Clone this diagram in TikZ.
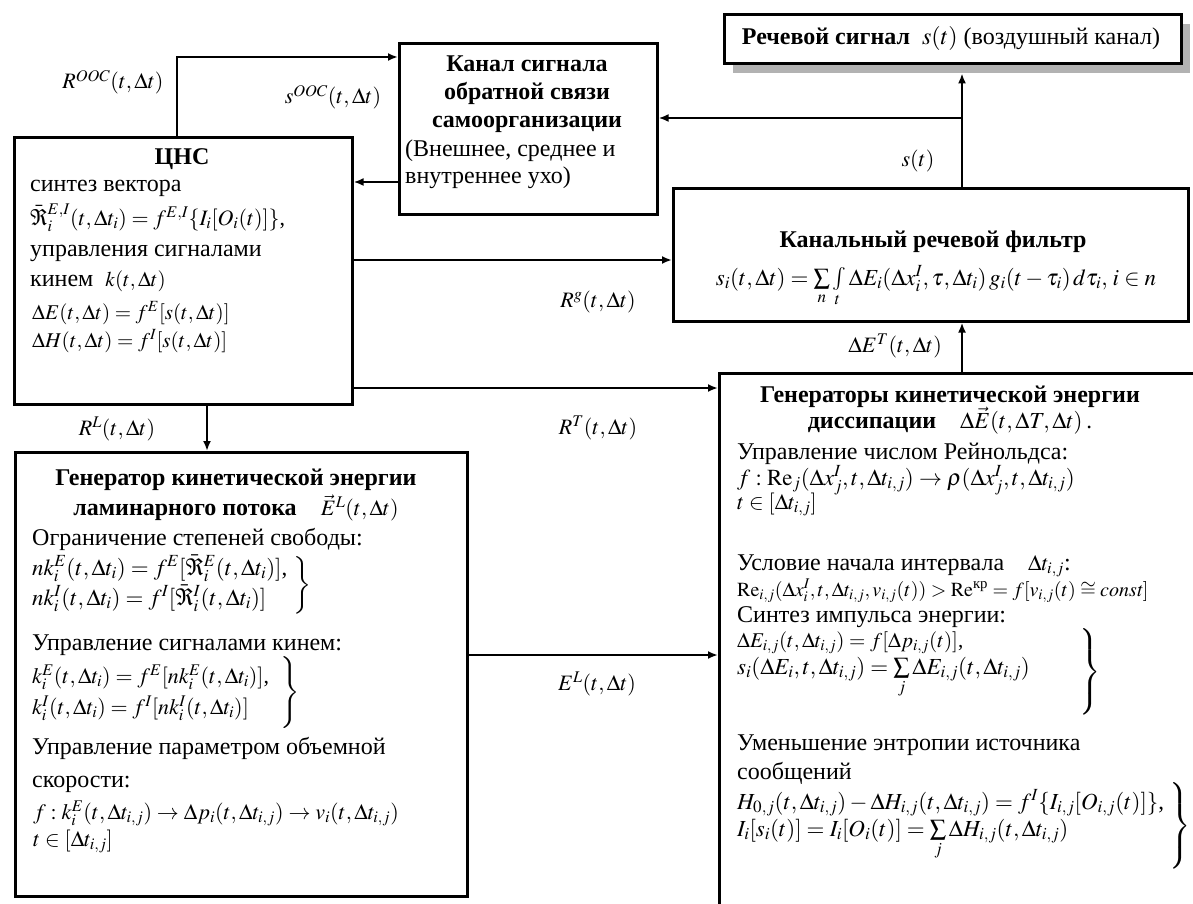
\documentclass[tikz,border=0pt]{standalone}
\usepackage{amsmath}
\usepackage{mathptmx}
\usepackage{fontspec}
\setmainfont{Liberation Serif}
\usetikzlibrary{arrows.meta}
\begin{document}
\begin{tikzpicture}[x=1pt,y=-1pt,
  box/.style={draw, line width=2.6pt, inner sep=0pt, anchor=north west},
  conn/.style={line width=2pt, -{Latex[length=10pt,width=8pt]}},
  tx/.style={anchor=base west, inner sep=0pt},
  tc/.style={anchor=base, inner sep=0pt},
  fs/.style={font=\fontsize{#1}{#1}\selectfont},
  brc/.style={inner sep=0pt},
  font=\fontsize{24}{29}\selectfont]
\useasboundingbox (0,0) rectangle (1193,904);
\clip (0,0) rectangle (1193,904);
% boxes
\node[box, minimum width=338pt, minimum height=267pt] (cns) at (13,136) {};
\node[box, minimum width=258pt, minimum height=171pt] (kanal) at (398,42) {};
\node[fill=gray!60, inner sep=0pt, anchor=north west, minimum width=457pt, minimum height=49pt] (rechsh) at (733,24) {};
\node[box, fill=white, minimum width=457pt, minimum height=49pt] (rech) at (723,13) {};
\node[box, minimum width=515pt, minimum height=133pt] (filt) at (672,187) {};
\node[box, minimum width=452pt, minimum height=444pt] (lam) at (14,451) {};
\node[box, minimum width=520pt, minimum height=600pt] (gen) at (718,372) {};
% connector coordinates
\coordinate (b1) at (177,57);
\coordinate (b2) at (0,182);
\coordinate (b3) at (962,0);
\coordinate (b4) at (962,118);
\coordinate (b5) at (0,260);
\coordinate (b6) at (0,388);
\coordinate (b7) at (207,0);
\coordinate (b8) at (0,655);
% connectors
\draw[conn] (cns.north -| b1) |- (kanal.west |- b1);
\draw[conn] (kanal.west |- b2) -- (cns.east |- b2);
\draw[conn] (filt.north -| b3) -- (rechsh.south -| b3);
\draw[conn] (b4) -- (kanal.east |- b4);
\draw[conn] (cns.east |- b5) -- (filt.west |- b5);
\draw[conn] (cns.east |- b6) -- (gen.west |- b6);
\draw[conn] (cns.south -| b7) -- (lam.north -| b7);
\draw[conn] (lam.east |- b8) -- (gen.west |- b8);
\draw[conn] (gen.north -| b3) -- (filt.south -| b3);
% connector labels
\node[tc, fs=22] (lrooc) at (113,89) {$R^{OOC}(t,\Delta t)$};
\node[tc, fs=22] (lsooc) at (333,104) {$s^{OOC}(t,\Delta t)$};
\node[tc, fs=22] (lst) at (918,167) {$s(t)$};
\node[tc, fs=22] (lrg) at (598,307) {$R^{g}(t,\Delta t)$};
\node[tc, fs=22] (lrt) at (598,434) {$R^{T}(t,\Delta t)$};
\node[tc, fs=22] (lrl) at (117,435) {$R^{L}(t,\Delta t)$};
\node[tc, fs=22] (lel) at (597,690) {$E^{L}(t,\Delta t)$};
\node[anchor=base east, inner sep=0pt, fs=22] (let) at (942,352) {$\Delta E^{T}(t,\Delta t)$};
% Rech
\node[tc] (trech) at (951,45) {\textbf{Речевой сигнал}\ \ $s(t)$ (воздушный канал)};
% Kanal
\node[tc] (tk1) at (527,72) {\textbf{Канал сигнала}};
\node[tc] (tk2) at (527,100) {\textbf{обратной связи}};
\node[tc] (tk3) at (527,128) {\textbf{самоорганизации}};
\node[tx] (tk4) at (405,157) {(Внешнее, среднее и};
\node[tx] (tk5) at (405,184) {внутреннее ухо)};
% CNS
\node[tc] (tc1) at (182,165) {\textbf{ЦНС}};
\node[tx] (tc2) at (30,191) {синтез вектора};
\node[tx, fs=22] (tc3) at (30,225) {$\bar{\Re}_i^{E,I}(t,\Delta t_i) = f^{E,I}\{I_i[O_i(t)]\}$,};
\node[tx] (tc4) at (30,256) {управления сигналами};
\node[tx] (tc5) at (30,286) {кинем\ \ {\fontsize{21}{25}\selectfont$k(t,\Delta t)$}};
\node[tx, fs=21] (tc6) at (32,319) {$\Delta E(t,\Delta t) = f^{E}[s(t,\Delta t)]$};
\node[tx, fs=21] (tc7) at (32,347) {$\Delta H(t,\Delta t) = f^{I}[s(t,\Delta t)]$};
% Filter
\node[tc] (tf1) at (933,247) {\textbf{Канальный речевой фильтр}};
\node[tc, fs=23] (tf2) at (936,285) {$s_i(t,\Delta t) = \sum\limits_n \int\limits_t \Delta E_i(\Delta x_i^{I},\tau,\Delta t_i)\,g_i(t-\tau_i)\,d\tau_i,\, i\in n$};
% Laminar
\node[tc] (tl1) at (236,485) {\textbf{Генератор кинетической энергии}};
\node[tc] (tl2) at (236,515) {\textbf{ламинарного потока}\quad {\fontsize{22}{25}\selectfont$\vec{E}^{L}(t,\Delta t)$}};
\node[tx] (tl3) at (32,545) {Ограничение степеней свободы:};
\node[tx, fs=23] (tl4) at (32,575) {$nk_i^{E}(t,\Delta t_i) = f^{E}[\bar{\Re}_i^{E}(t,\Delta t_i)]$,};
\node[tx, fs=23] (tl5) at (32,605) {$nk_i^{I}(t,\Delta t_i) = f^{I}[\bar{\Re}_i^{I}(t,\Delta t_i)]$};
\node[brc] (bl1) at (302,586) {$\left.\vrule height 25pt depth 25pt width 0pt\right\}$};
\node[tx] (tl6) at (32,650) {Управление сигналами кинем:};
\node[tx, fs=22] (tl7) at (32,683) {$k_i^{E}(t,\Delta t_i) = f^{E}[nk_i^{E}(t,\Delta t_i)]$,};
\node[tx, fs=22] (tl8) at (32,714) {$k_i^{I}(t,\Delta t_i) = f^{I}[nk_i^{I}(t,\Delta t_i)]$};
\node[brc] (bl2) at (290,693) {$\left.\vrule height 26pt depth 26pt width 0pt\right\}$};
\node[tx] (tl9) at (32,754) {Управление параметром объемной};
\node[tx] (tl10) at (32,787) {скорости:};
\node[tx, fs=22] (tl11) at (33,819) {$f : k_i^{E}(t,\Delta t_{i,j}) \to \Delta p_i(t,\Delta t_{i,j}) \to v_i(t,\Delta t_{i,j})$};
\node[tx, fs=22] (tl12) at (33,846) {$t \in [\Delta t_{i,j}]$};
% Generators of dissipation
\node[tc] (tg1) at (950,402) {\textbf{Генераторы кинетической энергии}};
\node[tc] (tg2) at (950,428) {\textbf{диссипации}\quad {\fontsize{23}{25}\selectfont$\Delta\vec{E}(t,\Delta T,\Delta t)$\,.}};
\node[tx] (tg3) at (737,459) {Управление числом Рейнольдса:};
\node[tx, fs=23] (tg4) at (737,485) {$f : \mathrm{Re}_j(\Delta x_j^{I},t,\Delta t_{i,j}) \to \rho(\Delta x_j^{I},t,\Delta t_{i,j})$};
\node[tx, fs=22] (tg5) at (737,509) {$t \in [\Delta t_{i,j}]$};
\node[tx] (tg6) at (737,570) {Условие начала интервала\quad {\fontsize{22}{25}\selectfont$\Delta t_{i,j}$}:};
\node[tx, fs=20] (tg7) at (737,596) {$\mathrm{Re}_{i,j}(\Delta x_i^{I},t,\Delta t_{i,j},v_{i,j}(t)) > \mathrm{Re}^{\text{кр}} = f[v_{i,j}(t) \cong \mathit{const}]$};
\node[tx] (tg8) at (737,622) {Синтез импульса энергии:};
\node[tx, fs=21] (tg9) at (737,647) {$\Delta E_{i,j}(t,\Delta t_{i,j}) = f[\Delta p_{i,j}(t)]$,};
\node[tx, fs=23] (tg10) at (737,674) {$s_i(\Delta E_i,t,\Delta t_{i,j}) = \sum\limits_j \Delta E_{i,j}(t,\Delta t_{i,j})$};
\node[brc] (bg1) at (1090,672) {$\left.\vrule height 38pt depth 38pt width 0pt\right\}$};
\node[tx] (tg11) at (737,750) {Уменьшение энтропии источника};
\node[tx] (tg12) at (737,779) {сообщений};
\node[tx, fs=23] (tg13) at (737,809) {$H_{0,j}(t,\Delta t_{i,j}) - \Delta H_{i,j}(t,\Delta t_{i,j}) = f^{I}\{I_{i,j}[O_{i,j}(t)]\}$,};
\node[tx, fs=23] (tg14) at (737,836) {$I_i[s_i(t)] = I_i[O_i(t)] = \sum\limits_j \Delta H_{i,j}(t,\Delta t_{i,j})$};
\node[brc] (bg2) at (1180,826) {$\left.\vrule height 38pt depth 38pt width 0pt\right\}$};
\end{tikzpicture}
\end{document}
